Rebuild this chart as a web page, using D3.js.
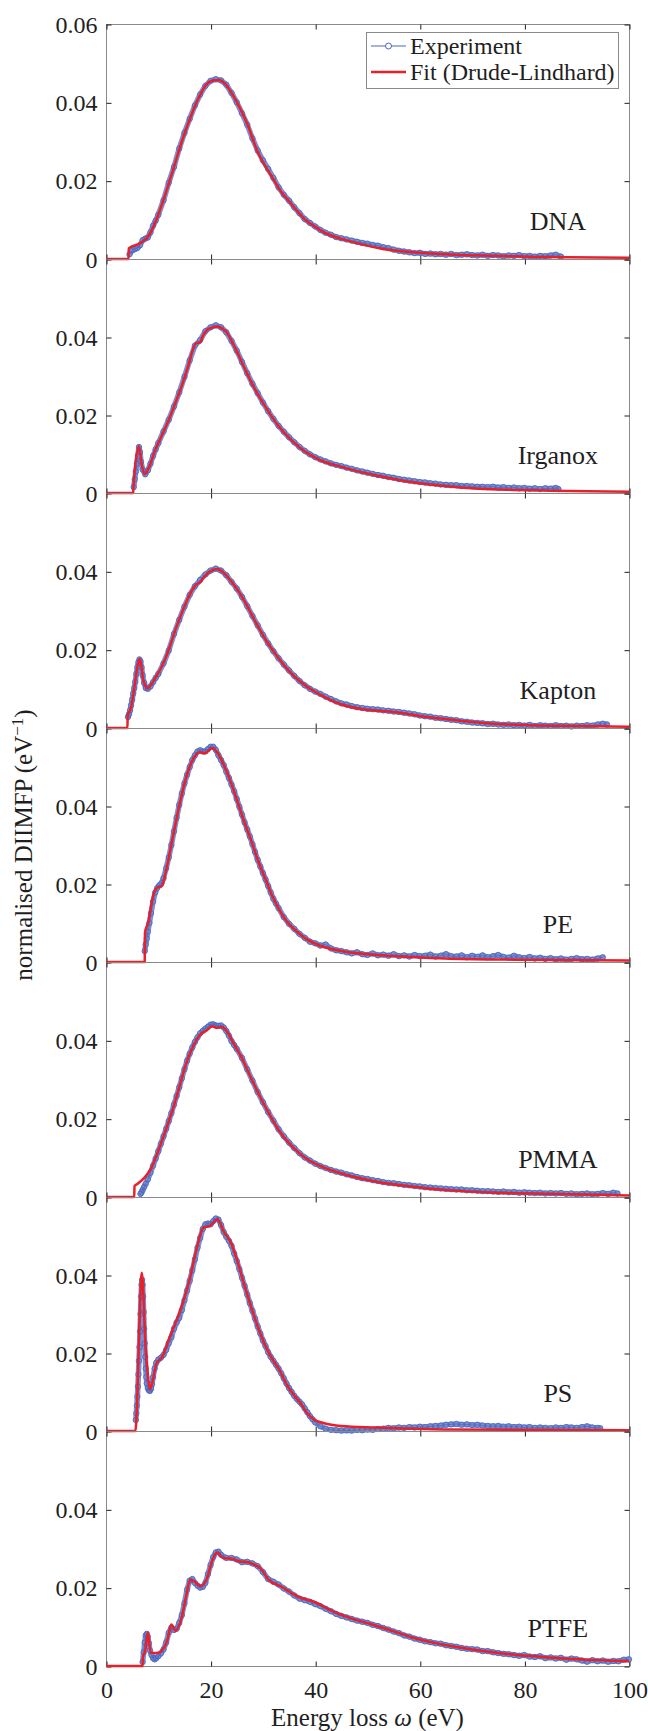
<!DOCTYPE html>
<html>
<head>
<meta charset="utf-8">
<script src="https://cdn.jsdelivr.net/npm/d3@7"></script>
<style>
  html, body { margin: 0; padding: 0; background: #fff; }
  svg { display: block; }
</style>
</head>
<body>
<svg id="chart" width="648" height="1731"></svg>
<script>
'use strict';

const materials = ['DNA', 'Irganox', 'Kapton', 'PE', 'PMMA', 'PS', 'PTFE'];
const xTicks = [0, 20, 40, 60, 80, 100];
const yTicks = [0, 0.02, 0.04];
const yTicksTop = [0, 0.02, 0.04, 0.06];

// [energy loss (eV), normalised DIIMFP (1/eV)]
const dnaFit = [[0,0],[4.3,0],[4.35,0.0027],[6.6,0.0041],[8.2,0.006],[9.7,0.0103],[11.3,0.0163],[12.9,0.0231],[14.5,0.030],[16.1,0.036],[17.7,0.0411],[19.2,0.0446],[20,0.0454],[21.6,0.0457],[22.8,0.0447],[24,0.0424],[25.6,0.0386],[27.2,0.0339],[28.7,0.0283],[30.3,0.024],[31.9,0.0206],[33.5,0.0171],[35.1,0.0146],[36.7,0.012],[38.2,0.0099],[39.8,0.0084],[41.4,0.007],[43,0.006],[46.2,0.0047],[49.3,0.0036],[52.5,0.0027],[55.7,0.0021],[58.8,0.0017],[66.7,0.0011],[74.7,0.0008],[82.6,0.0005],[100,0.0003]];
const dnaExp = [[4.5,0.0012],[5,0.0022],[5.5,0.0025],[6,0.0028],[6.5,0.0035],[7,0.0048],[7.5,0.0052],[8,0.0055],[8.5,0.0068],[9,0.0085],[9.5,0.0098],[10,0.0113],[11,0.015],[12,0.0195],[13,0.0235],[14,0.0282],[15,0.0322],[16,0.0358],[17,0.0392],[18,0.042],[19,0.0442],[20,0.0455],[21,0.0459],[22,0.0456],[23,0.0445],[24,0.0424],[25,0.04],[26,0.0372],[27,0.0343],[28,0.0308],[29,0.0277],[30,0.0252],[31,0.023],[32,0.0207],[33,0.0183],[34,0.0164],[35,0.0149],[36,0.0132],[37,0.0117],[38,0.0102],[39,0.0092],[40,0.0083],[41,0.0074],[42,0.0067],[43,0.0062],[44,0.0056],[45,0.0053],[46,0.005],[47,0.0047],[48,0.0044],[49,0.0041],[50,0.0039],[51,0.0036],[52,0.0034],[53,0.003],[54,0.0028],[55,0.0024],[56,0.0021],[57,0.0019],[58,0.0017],[59,0.0015],[60,0.0016],[61,0.0013],[62,0.0014],[63,0.0012],[64,0.0013],[65,0.0011],[66,0.0013],[67,0.001],[68,0.0011],[69,0.0012],[70,0.001],[71,0.0009],[72,0.0011],[73,0.0008],[74,0.001],[75,0.0009],[76,0.0007],[77,0.0009],[78,0.0008],[79,0.001],[80,0.0007],[81,0.0008],[82,0.0006],[83,0.0008],[84,0.0007],[85,0.0009],[86,0.0011],[87,0.0006]];

const irganoxFit = [[0,0],[5.2,0],[5.25,0.0015],[6.3,0.012],[6.8,0.0075],[7.4,0.0048],[8.2,0.0065],[9.4,0.011],[10.7,0.0148],[12,0.0187],[13.3,0.0232],[14.65,0.0281],[15.6,0.032],[16.6,0.0367],[17.3,0.0385],[18,0.0386],[18.6,0.0405],[19.3,0.0418],[20.3,0.0424],[21.3,0.0427],[22.2,0.0422],[23.2,0.041],[24.2,0.0385],[25.2,0.0358],[26.5,0.032],[27.9,0.0281],[29.2,0.0249],[30.5,0.0221],[31.8,0.0194],[33.1,0.017],[35.8,0.0131],[38.4,0.0103],[41,0.0084],[45,0.0067],[48,0.0056],[51.6,0.0045],[55,0.0036],[58.2,0.0028],[64.8,0.0018],[71.4,0.0011],[78,0.0008],[84.6,0.0006],[100,0.0003]];
const irganoxExp = [[5.3,0.0015],[5.5,0.0035],[5.7,0.0055],[5.9,0.0075],[6.1,0.0095],[6.3,0.0118],[6.5,0.0105],[6.7,0.008],[7,0.006],[7.5,0.0048],[8,0.0058],[8.5,0.0075],[9,0.0095],[9.5,0.0112],[10,0.0128],[11,0.0158],[12,0.0188],[13,0.0222],[14,0.0258],[15,0.0298],[16,0.034],[17,0.0378],[18,0.0392],[19,0.0415],[20,0.0425],[21,0.043],[22,0.0425],[23,0.0412],[24,0.039],[25,0.0365],[26,0.0336],[27,0.0307],[28,0.028],[29,0.0256],[30,0.0232],[31,0.021],[32,0.019],[33,0.0172],[34,0.0157],[35,0.0143],[36,0.013],[37,0.0118],[38,0.0108],[39,0.0099],[40,0.0092],[41,0.0086],[42,0.0081],[43,0.0076],[44,0.0072],[45,0.0069],[46,0.0065],[47,0.0062],[48,0.0058],[49,0.0055],[50,0.0052],[51,0.0049],[52,0.0046],[53,0.0044],[54,0.0041],[55,0.0039],[56,0.0036],[57,0.0034],[58,0.0032],[59,0.003],[60,0.0028],[61,0.0027],[62,0.0025],[63,0.0024],[64,0.0022],[65,0.0021],[66,0.002],[67,0.002],[68,0.0018],[69,0.0018],[70,0.0017],[71,0.0016],[72,0.0016],[73,0.0015],[74,0.0016],[75,0.0014],[76,0.0015],[77,0.0013],[78,0.0014],[79,0.0012],[80,0.0013],[81,0.0011],[82,0.0012],[83,0.001],[84,0.0012],[85,0.0011],[86,0.0013],[86.5,0.001]];

const kaptonFit = [[0,0],[4.1,0],[4.15,0.0033],[4.75,0.005],[5.4,0.0101],[6.07,0.0161],[6.4,0.0177],[6.8,0.0155],[7.06,0.0127],[7.5,0.0108],[7.9,0.0101],[8.6,0.011],[9.4,0.0127],[10.4,0.015],[11.4,0.0179],[12.3,0.0212],[13.3,0.0252],[14.3,0.0287],[15.3,0.032],[16.3,0.0348],[17.3,0.0367],[18,0.0372],[18.6,0.0383],[19.9,0.04],[21.3,0.0406],[22.6,0.0395],[23.6,0.038],[24.6,0.0363],[26.5,0.0324],[28.5,0.0273],[30.5,0.0226],[32.5,0.0187],[34.5,0.0153],[36.4,0.0127],[38.4,0.0106],[41.1,0.0084],[45,0.006],[49,0.0048],[55,0.0041],[61.5,0.0028],[68.1,0.0018],[74.7,0.001],[81.3,0.0007],[91.2,0.0005],[100,0.0003]];
const kaptonExp = [[4.2,0.0028],[4.4,0.0035],[4.6,0.0045],[4.8,0.0058],[5,0.0072],[5.2,0.0088],[5.4,0.0102],[5.6,0.0118],[5.8,0.0138],[6,0.0155],[6.2,0.0168],[6.4,0.0175],[6.6,0.017],[6.8,0.0155],[7,0.0135],[7.3,0.0115],[7.6,0.0102],[8,0.01],[8.5,0.0106],[9,0.0117],[9.5,0.0128],[10,0.0138],[11,0.0165],[12,0.0198],[13,0.024],[14,0.0276],[15,0.031],[16,0.034],[17,0.0362],[18,0.0378],[19,0.0392],[20,0.0402],[21,0.0407],[22,0.0402],[23,0.039],[24,0.0373],[25,0.0356],[26,0.0335],[27,0.0311],[28,0.0286],[29,0.0262],[30,0.0238],[31,0.0216],[32,0.0196],[33,0.0178],[34,0.0162],[35,0.0147],[36,0.0133],[37,0.012],[38,0.0109],[39,0.01],[40,0.0093],[41,0.0087],[42,0.008],[43,0.0074],[44,0.0068],[45,0.0063],[46,0.006],[47,0.0056],[48,0.0053],[49,0.0051],[50,0.0049],[51,0.0048],[52,0.0047],[53,0.0045],[54,0.0044],[55,0.0042],[56,0.0041],[57,0.0039],[58,0.0037],[59,0.0035],[60,0.0032],[61,0.003],[62,0.0029],[63,0.0026],[64,0.0025],[65,0.0023],[66,0.0021],[67,0.002],[68,0.0017],[69,0.0016],[70,0.0014],[71,0.0013],[72,0.0012],[73,0.001],[74,0.0011],[75,0.0009],[76,0.0008],[77,0.0009],[78,0.0007],[79,0.0008],[80,0.0006],[81,0.0008],[82,0.0005],[83,0.0007],[84,0.0006],[85,0.0005],[86,0.0007],[87,0.0005],[88,0.0006],[89,0.0004],[90,0.0006],[91,0.0005],[92,0.0007],[93,0.0006],[94,0.0009],[95,0.0011],[95.8,0.0009]];

const peFit = [[0,0],[7.4,0],[7.45,0.0075],[8.05,0.0101],[9,0.0169],[9.7,0.019],[10.7,0.0195],[11.4,0.0229],[12.7,0.0315],[14,0.04],[15.3,0.0472],[16.6,0.0519],[17.9,0.0538],[18.9,0.0535],[20.3,0.0549],[21.3,0.0537],[22.6,0.0503],[23.9,0.046],[25.2,0.0409],[26.5,0.0357],[27.9,0.0306],[29.2,0.0255],[30.5,0.0212],[31.8,0.0169],[33.1,0.0135],[34.5,0.0105],[36.4,0.0079],[38.4,0.0058],[41.1,0.0041],[45,0.0028],[51.6,0.0018],[58.2,0.0013],[64.8,0.0009],[78,0.0006],[100,0.0004]];
const peExp = [[7.4,0.0028],[7.6,0.0045],[7.8,0.006],[8,0.0078],[8.3,0.01],[8.6,0.0125],[9,0.0155],[9.4,0.0178],[9.8,0.019],[10.2,0.0197],[10.6,0.0202],[11,0.0215],[11.5,0.024],[12,0.0268],[12.5,0.03],[13,0.0335],[13.5,0.037],[14,0.0403],[14.5,0.0432],[15,0.0458],[15.5,0.048],[16,0.05],[16.5,0.0518],[17,0.053],[17.5,0.054],[18,0.0543],[18.5,0.054],[19,0.054],[19.5,0.0546],[20,0.0552],[20.5,0.0552],[21,0.0544],[21.5,0.053],[22,0.0518],[22.5,0.0505],[23,0.0488],[23.5,0.0472],[24,0.0455],[24.5,0.0438],[25,0.0418],[25.5,0.0398],[26,0.0378],[26.5,0.0358],[27,0.034],[27.5,0.0322],[28,0.0302],[28.5,0.0282],[29,0.0262],[29.5,0.0245],[30,0.0228],[30.5,0.0212],[31,0.0195],[31.5,0.0178],[32,0.0162],[32.5,0.015],[33,0.0138],[34,0.0115],[35,0.0098],[36,0.0085],[37,0.0072],[38,0.0062],[39,0.0052],[40,0.0048],[41,0.0042],[42,0.0045],[43,0.0035],[44,0.003],[45,0.0028],[46,0.0025],[47,0.0022],[48,0.0025],[49,0.002],[50,0.0018],[51,0.0022],[52,0.0017],[53,0.0019],[54,0.0016],[55,0.002],[56,0.0015],[57,0.0017],[58,0.0014],[59,0.0018],[60,0.0015],[61,0.0016],[62,0.0019],[63,0.0014],[64,0.0016],[65,0.002],[66,0.0015],[67,0.0014],[68,0.0017],[69,0.0012],[70,0.0016],[71,0.0013],[72,0.0017],[73,0.0012],[74,0.0015],[75,0.0018],[76,0.0013],[77,0.0011],[78,0.0016],[79,0.0012],[80,0.001],[81,0.0013],[82,0.0009],[83,0.0011],[84,0.0008],[85,0.001],[86,0.0007],[87,0.0009],[88,0.0006],[89,0.0008],[90,0.001],[91,0.0007],[92,0.0008],[93,0.0006],[94,0.0009],[95,0.0012]];

const pmmaFit = [[0,0],[5.4,0],[5.45,0.0028],[6.07,0.0034],[7.4,0.005],[8.7,0.0075],[10,0.0118],[11.4,0.017],[12.7,0.0221],[14,0.028],[15.3,0.034],[16.6,0.0383],[17.9,0.0413],[19.3,0.0426],[20.3,0.0436],[21.3,0.0432],[22.2,0.0434],[23.2,0.0421],[24.6,0.0387],[25.9,0.0357],[27.2,0.0319],[29.2,0.0263],[31.2,0.0212],[33.1,0.0169],[35.8,0.0126],[38.4,0.0097],[41.7,0.0075],[45,0.006],[50.3,0.0043],[55.6,0.0031],[61.5,0.0022],[68.1,0.0015],[74.7,0.0011],[84.6,0.0008],[100,0.0004]];
const pmmaExp = [[6.6,0.0008],[6.8,0.0012],[7,0.0018],[7.3,0.0026],[7.6,0.0034],[8,0.0045],[8.5,0.0062],[9,0.008],[9.5,0.0098],[10,0.0117],[10.5,0.0136],[11,0.0155],[11.5,0.0174],[12,0.0194],[12.5,0.0214],[13,0.0236],[13.5,0.0258],[14,0.028],[14.5,0.0303],[15,0.0326],[15.5,0.0348],[16,0.0366],[16.5,0.0382],[17,0.0396],[17.5,0.0408],[18,0.0418],[18.5,0.0424],[19,0.043],[19.5,0.0435],[20,0.044],[20.5,0.0441],[21,0.0438],[21.5,0.0437],[22,0.0438],[22.5,0.0433],[23,0.0424],[23.5,0.0412],[24,0.0398],[24.5,0.0388],[25,0.0378],[26,0.0355],[27,0.0326],[28,0.0297],[29,0.0268],[30,0.0242],[31,0.0217],[32,0.0195],[33,0.0173],[34,0.0155],[35,0.0139],[36,0.0125],[37,0.0112],[38,0.0101],[39,0.0093],[40,0.0085],[41,0.0079],[42,0.0074],[43,0.0069],[44,0.0065],[45,0.0062],[46,0.0058],[47,0.0055],[48,0.0051],[49,0.0048],[50,0.0046],[51,0.0043],[52,0.0041],[53,0.0038],[54,0.0036],[55,0.0035],[56,0.0033],[57,0.0031],[58,0.003],[59,0.0028],[60,0.0027],[61,0.0025],[62,0.0024],[63,0.0023],[64,0.0022],[65,0.0021],[66,0.002],[67,0.0019],[68,0.0019],[69,0.0017],[70,0.0017],[71,0.0016],[72,0.0015],[73,0.0015],[74,0.0014],[75,0.0013],[76,0.0014],[77,0.0012],[78,0.0013],[79,0.0011],[80,0.0012],[81,0.0011],[82,0.001],[83,0.0011],[84,0.0009],[85,0.001],[86,0.0009],[87,0.001],[88,0.0008],[89,0.0009],[90,0.0007],[91,0.0008],[92,0.0009],[93,0.0007],[94,0.0008],[95,0.001],[96,0.0008],[97,0.0011],[97.8,0.0009]];

const psFit = [[0,0],[5.6,0],[6.86,0.0406],[7.6,0.021],[8,0.0145],[8.4,0.0107],[9,0.0133],[9.7,0.0175],[10.7,0.0188],[12,0.0235],[13.3,0.0278],[14.7,0.0329],[16,0.0389],[17.3,0.0466],[18.6,0.0521],[19.9,0.0526],[21.3,0.0543],[22.6,0.0509],[23.9,0.0483],[25.2,0.0432],[26.5,0.0372],[27.9,0.0312],[29.2,0.0261],[30.5,0.0218],[31.8,0.0184],[33.1,0.0158],[34.5,0.012],[35.8,0.0094],[37.1,0.0073],[38.4,0.0047],[39.7,0.003],[41.7,0.002],[45,0.0013],[51.6,0.0009],[58.2,0.0006],[64.8,0.0004],[100,0.0002]];
const psExp = [[5.7,0.0028],[5.8,0.0045],[5.9,0.0065],[6,0.0088],[6.1,0.0114],[6.2,0.0145],[6.3,0.018],[6.4,0.0215],[6.5,0.0255],[6.6,0.03],[6.7,0.0345],[6.8,0.0375],[6.9,0.0388],[7,0.0375],[7.1,0.0345],[7.2,0.0305],[7.3,0.0262],[7.4,0.0225],[7.5,0.019],[7.6,0.016],[7.7,0.0138],[7.8,0.0122],[8,0.011],[8.2,0.0104],[8.4,0.0103],[8.6,0.0108],[8.8,0.012],[9,0.0138],[9.3,0.016],[9.6,0.0175],[10,0.0183],[10.5,0.0188],[11,0.0195],[11.5,0.0208],[12,0.0225],[12.5,0.024],[13,0.0262],[13.5,0.0278],[14,0.029],[14.5,0.031],[15,0.0335],[15.5,0.036],[16,0.0385],[16.5,0.0412],[17,0.044],[17.5,0.047],[18,0.0495],[18.5,0.0518],[19,0.053],[19.5,0.0532],[20,0.053],[20.5,0.0538],[21,0.0545],[21.5,0.0542],[22,0.0528],[22.5,0.051],[23,0.0498],[23.5,0.0488],[24,0.0475],[24.5,0.0455],[25,0.0436],[25.5,0.0415],[26,0.0393],[26.5,0.0372],[27,0.035],[27.5,0.0328],[28,0.0308],[28.5,0.0288],[29,0.0268],[29.5,0.025],[30,0.0232],[30.5,0.0218],[31,0.0202],[31.5,0.019],[32,0.018],[32.5,0.017],[33,0.016],[33.5,0.0148],[34,0.0135],[34.5,0.0122],[35,0.011],[35.5,0.01],[36,0.009],[36.5,0.0082],[37,0.0075],[37.5,0.0068],[38,0.0058],[38.5,0.0048],[39,0.0038],[39.5,0.003],[40,0.0022],[41,0.0012],[42,0.0006],[43,0.0003],[44,0.0002],[45,0.0001],[46,0.0002],[47,0.0001],[48,0.0003],[49,0.0002],[50,0.0004],[51,0.0003],[52,0.0005],[53,0.0006],[54,0.0008],[55,0.0007],[56,0.0009],[57,0.0008],[58,0.001],[59,0.0009],[60,0.0011],[61,0.001],[62,0.0012],[63,0.0013],[64,0.0014],[65,0.0016],[66,0.0017],[67,0.0018],[68,0.0016],[69,0.0017],[70,0.0015],[71,0.0016],[72,0.0014],[73,0.0013],[74,0.0012],[75,0.0013],[76,0.0011],[77,0.0012],[78,0.001],[79,0.0011],[80,0.0009],[81,0.001],[82,0.0008],[83,0.0009],[84,0.0008],[85,0.0007],[86,0.0009],[87,0.0008],[88,0.001],[89,0.0009],[90,0.0008],[91,0.001],[92,0.0012],[93,0.0009],[94,0.0008],[94.5,0.0007]];

const ptfeFit = [[0,0],[7,0],[7.05,0.0022],[7.5,0.0039],[8,0.0086],[8.55,0.0034],[9.7,0.0033],[10.9,0.0043],[11.7,0.0065],[12.5,0.0106],[13.3,0.009],[14.5,0.0125],[15.3,0.0177],[16.1,0.022],[16.9,0.0216],[18.1,0.0204],[19.2,0.022],[20.4,0.0272],[21.2,0.029],[22.4,0.0276],[24,0.0274],[25.6,0.0267],[27.2,0.0265],[28.3,0.0259],[29.5,0.025],[31.1,0.022],[33.5,0.0203],[36.7,0.0177],[39.8,0.0164],[43,0.0142],[47,0.0121],[50.9,0.0106],[54.9,0.0089],[58.8,0.0072],[62.8,0.0059],[66.7,0.0049],[70.7,0.0041],[74.7,0.0034],[78.6,0.0028],[82.6,0.0024],[86.5,0.002],[90.5,0.0017],[94.5,0.0015],[100,0.0012]];
const ptfeExp = [[7,0.001],[7.2,0.0035],[7.4,0.006],[7.6,0.0078],[7.8,0.0082],[8,0.0075],[8.2,0.0058],[8.4,0.004],[8.7,0.0028],[9,0.002],[9.3,0.0017],[9.6,0.002],[10,0.0025],[10.5,0.0032],[11,0.0042],[11.5,0.006],[12,0.0085],[12.5,0.0098],[13,0.0092],[13.5,0.0095],[14,0.011],[14.5,0.013],[15,0.016],[15.5,0.0195],[16,0.0218],[16.5,0.0222],[17,0.0212],[17.5,0.0205],[18,0.02],[18.5,0.0202],[19,0.0212],[19.5,0.0235],[20,0.0258],[20.5,0.0278],[21,0.029],[21.5,0.0292],[22,0.0284],[23,0.0276],[24,0.0276],[25,0.0272],[26,0.0265],[27,0.0266],[28,0.0262],[29,0.0255],[30,0.024],[31,0.0222],[32,0.0215],[33,0.0208],[34,0.0198],[35,0.019],[36,0.018],[37,0.0172],[38,0.0168],[39,0.0164],[40,0.0158],[41,0.0153],[42,0.0146],[43,0.014],[44,0.0133],[45,0.0128],[46,0.0124],[47,0.012],[48,0.0116],[49,0.0113],[50,0.011],[51,0.0105],[52,0.0102],[53,0.0097],[54,0.0093],[55,0.0088],[56,0.0084],[57,0.0078],[58,0.0075],[59,0.007],[60,0.0067],[61,0.0063],[62,0.0061],[63,0.0058],[64,0.0057],[65,0.0053],[66,0.0051],[67,0.0049],[68,0.0046],[69,0.0044],[70,0.0043],[71,0.0042],[72,0.0038],[73,0.0038],[74,0.0035],[75,0.0033],[76,0.0031],[77,0.003],[78,0.0028],[79,0.0026],[80,0.0028],[81,0.0024],[82,0.0023],[83,0.0025],[84,0.002],[85,0.0022],[86,0.0019],[87,0.0021],[88,0.0016],[89,0.0019],[90,0.0017],[91,0.0014],[92,0.0011],[93,0.0015],[94,0.0012],[95,0.0014],[96,0.0011],[97,0.0013],[98,0.0012],[99,0.0016],[100,0.0017]];

const expSeries = [dnaExp, irganoxExp, kaptonExp, peExp, pmmaExp, psExp, ptfeExp];
const fitSeries = [dnaFit, irganoxFit, kaptonFit, peFit, pmmaFit, psFit, ptfeFit];

/** layout and style */
const FONT = '"Liberation Serif", "Times New Roman", serif';
const FS = 24;
const BLUE = '#4a67c0';
const BAND = '#7b8fcf';
const RED = '#e8202a';
const BOX = '#8a8a8a';
const INK = '#1f1f1f';

const plotL = 106, plotR = 629, plotT = 24, plotB = 1666;
const ph = (plotB - plotT) / materials.length;

const svg = d3.select('#chart');
const x = d3.scaleLinear().domain([0, 100]).range([plotL, plotR]);

const expLine = d3.line().x(d => x(d[0]));
const fitLine = d3.line().x(d => x(d[0])).curve(d3.curveMonotoneX);

const yFmt = d => d === 0 ? '0' : d3.format('.2f')(d);

function styleAxis(g){
	g.select('.domain').remove();
	g.selectAll('.tick line').attr('stroke', INK).attr('stroke-width', 1);
	g.selectAll('.tick text')
		.attr('font-family', FONT)
		.attr('font-size', FS)
		.attr('fill', INK);
}

materials.forEach((name, i) => {
	const pTop = Math.round(plotT + i * ph);
	const pBot = Math.round(plotT + (i + 1) * ph);
	const y = d3.scaleLinear().domain([0, 0.06]).range([pBot, pTop]);
	const g = svg.append('g').attr('class', 'panel');

	// box
	g.append('rect')
		.attr('x', plotL + 0.5)
		.attr('y', pTop + 0.5)
		.attr('width', plotR - plotL)
		.attr('height', pBot - pTop)
		.attr('fill', 'none')
		.attr('stroke', BOX)
		.attr('stroke-width', 1);

	// ticks
	g.append('g')
		.attr('transform', `translate(${plotL + 0.5},0.5)`)
		.call(d3.axisLeft(y).tickValues(i === 0 ? yTicksTop : yTicks)
			.tickSizeInner(-5).tickSizeOuter(0).tickPadding(9).tickFormat(yFmt))
		.call(styleAxis);
	g.append('g')
		.attr('transform', `translate(${plotR + 0.5},0.5)`)
		.call(d3.axisRight(y).tickValues(yTicksTop).tickSizeInner(-5).tickSizeOuter(0).tickFormat(''))
		.call(styleAxis);
	g.append('g')
		.attr('transform', `translate(0.5,${pTop + 0.5})`)
		.call(d3.axisTop(x).tickValues(xTicks).tickSizeInner(-5).tickSizeOuter(0).tickFormat(''))
		.call(styleAxis);
	g.append('g')
		.attr('transform', `translate(0.5,${pBot + 0.5})`)
		.call(d3.axisBottom(x).tickValues(xTicks).tickSizeInner(-5).tickSizeOuter(0)
			.tickPadding(14).tickFormat(i === materials.length - 1 ? d3.format('d') : ''))
		.call(styleAxis);

	expLine.y(d => y(d[1]));
	fitLine.y(d => y(d[1]));

	// experiment: dense band of markers
	g.append('path')
		.datum(expSeries[i])
		.attr('d', expLine)
		.attr('fill', 'none')
		.attr('stroke', BAND)
		.attr('stroke-width', 5.5)
		.attr('stroke-linejoin', 'round')
		.attr('stroke-linecap', 'round');
	g.append('path')
		.datum(expSeries[i])
		.attr('d', expLine)
		.attr('fill', 'none')
		.attr('stroke', BLUE)
		.attr('stroke-width', 0.8);
	g.append('g').selectAll('circle')
		.data(expSeries[i])
		.join('circle')
			.attr('cx', d => x(d[0]))
			.attr('cy', d => y(d[1]))
			.attr('r', 2.7)
			.attr('fill', 'none')
			.attr('stroke', BLUE)
			.attr('stroke-width', 0.9);

	// fit
	g.append('path')
		.datum(fitSeries[i])
		.attr('d', fitLine)
		.attr('fill', 'none')
		.attr('stroke', RED)
		.attr('stroke-width', 2.5)
		.attr('stroke-linejoin', 'round');

	// material label
	g.append('text')
		.attr('x', x(86.4))
		.attr('y', y(0.0095))
		.attr('text-anchor', 'middle')
		.attr('dominant-baseline', 'central')
		.attr('font-family', FONT)
		.attr('font-size', 26)
		.attr('fill', INK)
		.text(name);
});

// legend
const lg = svg.append('g').attr('class', 'legend');
lg.append('rect')
	.attr('x', 366.5).attr('y', 32.5)
	.attr('width', 252).attr('height', 56)
	.attr('fill', '#fff')
	.attr('stroke', BOX);
lg.append('line')
	.attr('x1', 371).attr('x2', 406).attr('y1', 46).attr('y2', 46)
	.attr('stroke', BLUE).attr('stroke-width', 1);
lg.append('circle')
	.attr('cx', 388.5).attr('cy', 46).attr('r', 3)
	.attr('fill', '#fff').attr('stroke', BLUE).attr('stroke-width', 1);
lg.append('line')
	.attr('x1', 371).attr('x2', 406).attr('y1', 72).attr('y2', 72)
	.attr('stroke', RED).attr('stroke-width', 2.5);
lg.selectAll('text')
	.data(['Experiment', 'Fit (Drude-Lindhard)'])
	.join('text')
		.attr('x', 410)
		.attr('y', (d, i) => 46 + i * 26)
		.attr('dominant-baseline', 'central')
		.attr('font-family', FONT)
		.attr('font-size', FS)
		.attr('fill', INK)
		.text(d => d);

// axis titles
const xt = svg.append('text')
	.attr('x', (plotL + plotR) / 2)
	.attr('y', 1726)
	.attr('text-anchor', 'middle')
	.attr('font-family', FONT)
	.attr('font-size', 25)
	.attr('fill', INK);
xt.append('tspan').text('Energy loss ');
xt.append('tspan').attr('font-style', 'italic').text('ω');
xt.append('tspan').text(' (eV)');

const yt = svg.append('text')
	.attr('transform', `translate(32,${(plotT + plotB) / 2}) rotate(-90)`)
	.attr('text-anchor', 'middle')
	.attr('font-family', FONT)
	.attr('font-size', 25)
	.attr('fill', INK);
yt.append('tspan').text('normalised DIIMFP (eV');
yt.append('tspan').attr('font-size', 17).attr('dy', -9).text('−1');
yt.append('tspan').attr('dy', 9).text(')');
</script>
</body>
</html>
